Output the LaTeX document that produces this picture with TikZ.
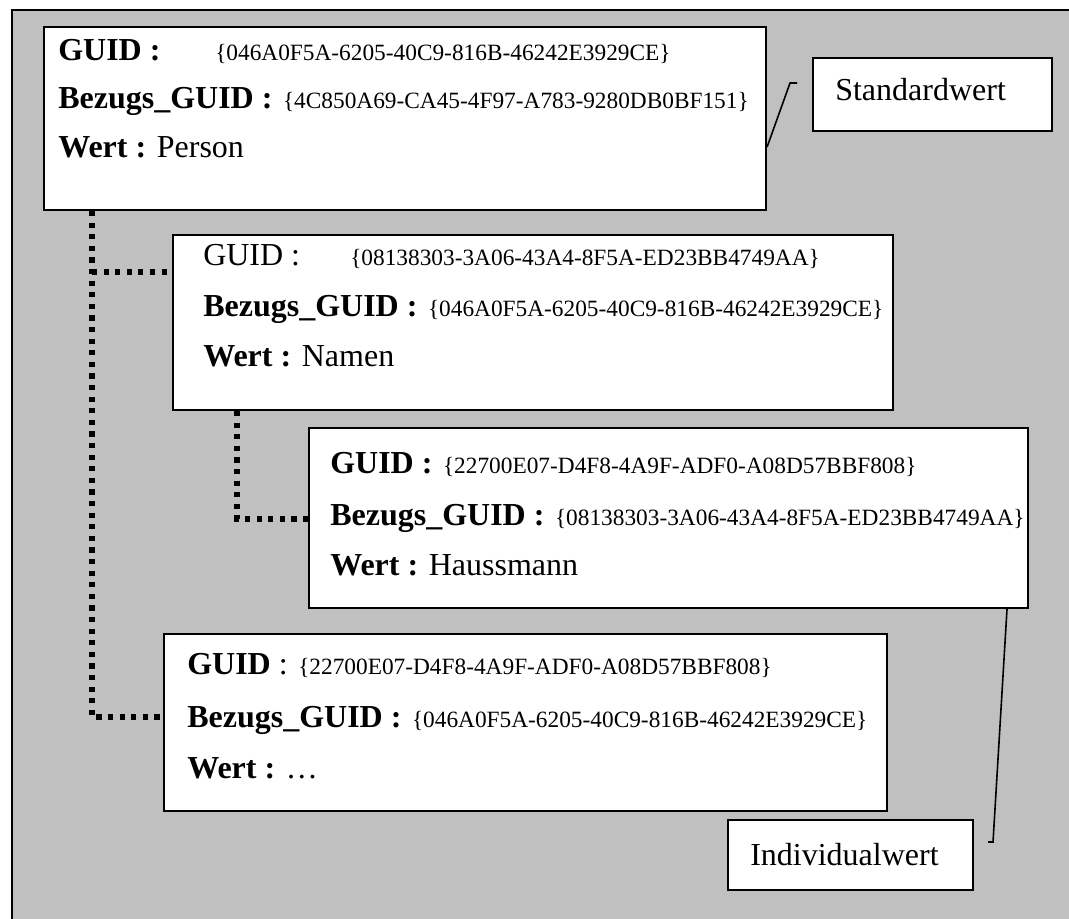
\documentclass[tikz,border=0pt]{standalone}
\usepackage{fontspec}
\setmainfont{Liberation Serif}
\usetikzlibrary{fit}
\begin{document}
\begin{tikzpicture}[x=0.75pt,y=-0.75pt,
  card/.style={draw=black,line width=1.6pt,fill=white,inner sep=0pt},
  frame/.style={draw=black,line width=1.8pt,fill={rgb,255:red,192;green,192;blue,192}},
  big/.style={font=\fontsize{24pt}{28pt}\selectfont,anchor=base west,inner sep=0pt},
  small/.style={font=\fontsize{17.5pt}{21pt}\selectfont,anchor=base west,inner sep=0pt},
  dotline/.style={line width=4pt,dash pattern=on 3.8pt off 4.9pt},
  callout/.style={line width=1.2pt}]
\useasboundingbox (0,0) rectangle (1069,918);
\clip (0,0) rectangle (1069,918);
% grey panel
\path[frame] (12,10) rectangle (1090,940);

% record: Person
\node[card,fit={(44,27) (766,210)}] (A) {};
\node[big] (a1) at (58,60) {\textbf{GUID :}};
\node[small] (a1v) at (215,60) {\{046A0F5A-6205-40C9-816B-46242E3929CE\}};
\node[big] (a2) at (58,108) {\textbf{Bezugs\_GUID :}};
\node[small,anchor=base west] (a2v) at ([xshift=7.5pt]a2.base east) {\{4C850A69-CA45-4F97-A783-9280DB0BF151\}};
\node[big] (a3) at (58,157) {\textbf{Wert :} Person};

% record: Namen
\node[card,fit={(173,235) (893,410)}] (B) {};
\node[big] (b1) at (203,265) {GUID :};
\node[small] (b1v) at (350,265) {\{08138303-3A06-43A4-8F5A-ED23BB4749AA\}};
\node[big] (b2) at (203,316) {\textbf{Bezugs\_GUID :}};
\node[small,anchor=base west] (b2v) at ([xshift=7.5pt]b2.base east) {\{046A0F5A-6205-40C9-816B-46242E3929CE\}};
\node[big] (b3) at (203,366) {\textbf{Wert :} Namen};

% record: Haussmann
\node[card,fit={(309,428) (1028,608)}] (C) {};
\node[big] (c1) at (330,473) {\textbf{GUID :}};
\node[small,anchor=base west] (c1v) at ([xshift=7.5pt]c1.base east) {\{22700E07-D4F8-4A9F-ADF0-A08D57BBF808\}};
\node[big] (c2) at (330,525) {\textbf{Bezugs\_GUID :}};
\node[small,anchor=base west] (c2v) at ([xshift=7.5pt]c2.base east) {\{08138303-3A06-43A4-8F5A-ED23BB4749AA\}};
\node[big] (c3) at (330,575) {\textbf{Wert :} Haussmann};

% record: further value
\node[card,fit={(164,634) (887,811)}] (D) {};
\node[big] (d1) at (187,674) {\textbf{GUID} :};
\node[small,anchor=base west] (d1v) at ([xshift=7.5pt]d1.base east) {\{22700E07-D4F8-4A9F-ADF0-A08D57BBF808\}};
\node[big] (d2) at (187,727) {\textbf{Bezugs\_GUID :}};
\node[small,anchor=base west] (d2v) at ([xshift=7.5pt]d2.base east) {\{046A0F5A-6205-40C9-816B-46242E3929CE\}};
\node[big] (d3) at (187,778) {\textbf{Wert :} \dots};

% labels
\node[card,fit={(813,58) (1052,131)}] (S) {};
\node[big] (st) at (835,100) {Standardwert};
\node[card,fit={(728,820) (973,890)}] (I) {};
\node[big] (it) at (750,865) {Individualwert};

% hierarchy connectors
\coordinate (ab) at (92,272);
\coordinate (ad) at (92,717);
\coordinate (bc) at (237,519);
\draw[dotline] (A.south -| ab) -- (ad) -- (D.west |- ad);
\draw[dotline] (ab) -- (B.west |- ab);
\draw[dotline] (B.south -| bc) -- (bc) -- (C.west |- bc);

% label leaders
\coordinate (s1) at (790,83);
\coordinate (s2) at (797,83);
\draw[callout] (A.east |- 0,147) -- (s1) -- (s2);
\coordinate (i1) at (993,842);
\coordinate (i2) at (988,842);
\draw[callout] (C.south -| 1007,0) -- (i1) -- (i2);
\end{tikzpicture}
\end{document}
